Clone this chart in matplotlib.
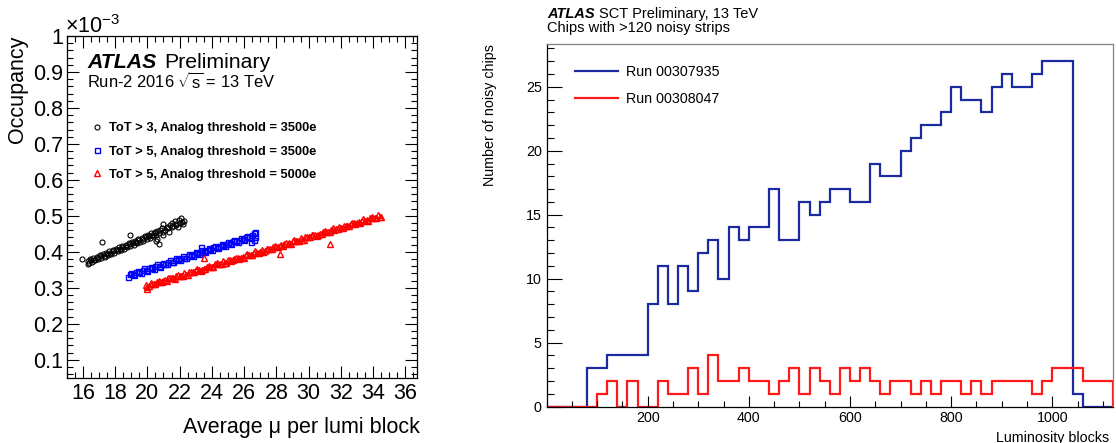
import numpy as np
import matplotlib
matplotlib.use("Agg")
import matplotlib.pyplot as plt
from matplotlib.ticker import MultipleLocator, FixedLocator, FuncFormatter
from matplotlib.lines import Line2D

plt.rcParams['font.family'] = ['Liberation Sans', 'DejaVu Sans']
plt.rcParams['mathtext.fontset'] = 'custom'
plt.rcParams['mathtext.rm'] = 'Liberation Sans'
plt.rcParams['mathtext.it'] = 'Liberation Sans:italic'

# ---- left panel: occupancy (x10^-3) vs average mu ----
mu_tot3 = [15.95, 16.30, 16.40, 16.45, 16.55, 16.65, 16.75, 16.85, 16.95, 17.05, 17.15,
           17.25, 17.35, 17.45, 17.55, 17.65, 17.75, 17.85, 17.95, 18.05, 18.15, 18.25,
           18.35, 18.45, 18.55, 18.65, 18.75, 18.85, 18.95, 19.05, 19.15, 19.25, 19.35,
           19.45, 19.55, 19.65, 19.75, 19.85, 19.95, 20.05, 20.15, 20.25, 20.35, 20.45,
           20.55, 20.60, 20.70, 20.80, 20.90, 21.00, 21.00, 21.10, 21.20, 21.30, 21.40,
           21.50, 21.55, 21.60, 21.70, 21.75, 21.80, 21.90, 21.95, 22.00, 22.10, 22.15,
           22.20, 22.25, 21.35, 20.95, 16.30, 17.20, 18.90, 20.55, 20.70, 20.60,
           16.5, 16.7, 16.9, 17.1, 17.3, 17.5, 17.7, 17.9, 18.1, 18.3, 18.5, 18.7,
           18.9, 19.1, 19.3, 19.5, 19.7, 19.9, 20.1, 20.3, 20.5]
occ_tot3 = [0.379, 0.374, 0.368, 0.379, 0.372, 0.383, 0.376, 0.386, 0.379, 0.390, 0.382,
            0.393, 0.386, 0.397, 0.390, 0.401, 0.393, 0.405, 0.398, 0.409, 0.401, 0.412,
            0.405, 0.416, 0.409, 0.420, 0.413, 0.424, 0.416, 0.428, 0.420, 0.431, 0.424,
            0.435, 0.428, 0.439, 0.431, 0.443, 0.435, 0.447, 0.439, 0.451, 0.443, 0.455,
            0.447, 0.458, 0.452, 0.462, 0.466, 0.478, 0.455, 0.462, 0.470, 0.466, 0.474,
            0.468, 0.480, 0.472, 0.485, 0.474, 0.478, 0.470, 0.488, 0.480, 0.495, 0.484,
            0.478, 0.486, 0.455, 0.447, 0.365, 0.426, 0.446, 0.430, 0.421, 0.435,
            0.376, 0.378, 0.383, 0.387, 0.389, 0.395, 0.397, 0.402, 0.406, 0.408, 0.414,
            0.416, 0.421, 0.425, 0.427, 0.433, 0.435, 0.440, 0.444, 0.446, 0.452]

mu_tot5 = [18.8, 19.0, 19.2, 19.4, 19.6, 19.8, 20.0, 20.2, 20.4, 20.6, 20.8, 21.0, 21.2,
           21.4, 21.6, 21.8, 22.0, 22.2, 22.4, 22.6, 22.8, 23.0, 23.2, 23.4, 23.6, 23.8,
           24.0, 24.2, 24.4, 24.6, 24.8, 25.0, 25.2, 25.4, 25.6, 25.8, 26.0, 26.2, 26.4,
           26.6,
           18.9, 19.1, 19.3, 19.5, 19.7, 19.9, 20.1, 20.3, 20.5, 20.7, 20.9, 21.1, 21.3,
           21.5, 21.7, 21.9, 22.1, 22.3, 22.5, 22.7, 22.9, 23.1, 23.3, 23.5, 23.7, 23.9,
           24.1, 24.3, 24.5, 24.7, 24.9, 25.1, 25.3, 25.5, 25.7, 25.9, 26.1, 26.3, 26.5,
           26.7, 23.3, 26.4, 26.6, 26.7]
occ_tot5 = [0.331, 0.341, 0.336, 0.347, 0.342, 0.354, 0.348, 0.359, 0.353, 0.365, 0.359,
            0.370, 0.365, 0.376, 0.371, 0.382, 0.377, 0.387, 0.382, 0.393, 0.388, 0.399,
            0.394, 0.405, 0.399, 0.411, 0.405, 0.416, 0.411, 0.422, 0.417, 0.428, 0.422,
            0.433, 0.428, 0.439, 0.434, 0.445, 0.439, 0.451,
            0.337, 0.338, 0.343, 0.344, 0.349, 0.350, 0.354, 0.356, 0.360, 0.361, 0.366,
            0.367, 0.372, 0.373, 0.377, 0.379, 0.383, 0.384, 0.389, 0.390, 0.394, 0.396,
            0.400, 0.402, 0.406, 0.407, 0.412, 0.413, 0.417, 0.419, 0.423, 0.424, 0.429,
            0.430, 0.434, 0.436, 0.440, 0.442, 0.446, 0.455, 0.412, 0.428, 0.432, 0.440]

mu_thr5000 = [19.9, 20.1, 20.3, 20.5, 20.7, 20.9, 21.1, 21.3, 21.5, 21.7, 21.9, 22.1, 22.3,
              22.5, 22.7, 22.9, 23.1, 23.3, 23.5, 23.7, 23.9, 24.1, 24.3, 24.5, 24.7, 24.9,
              25.1, 25.3, 25.5, 25.7, 25.9, 26.1, 26.3, 26.5, 26.7, 26.9, 27.1, 27.3, 27.5,
              27.7, 27.9, 28.1, 28.3, 28.5, 28.7, 28.9, 29.1, 29.3, 29.5, 29.7, 29.9, 30.1,
              30.3, 30.5, 30.7, 30.9, 31.1, 31.3, 31.5, 31.7, 31.9, 32.1, 32.3, 32.5, 32.7,
              32.9, 33.1, 33.3, 33.5, 33.7, 33.9, 34.1, 34.3, 34.5,
              20.0, 20.2, 20.4, 20.6, 20.8, 21.0, 21.2, 21.4, 21.6, 21.8, 22.0, 22.2, 22.4,
              22.6, 22.8, 23.0, 23.2, 23.4, 23.6, 23.8, 24.0, 24.2, 24.4, 24.6, 24.8, 25.0,
              25.2, 25.4, 25.6, 25.8, 26.0, 26.2, 26.4, 26.6, 26.8, 27.0, 27.2, 27.4, 27.6,
              27.8, 28.0, 28.2, 28.4, 28.6, 28.8, 29.0, 29.2, 29.4, 29.6, 29.8, 30.0, 30.2,
              30.4, 30.6, 30.8, 31.0, 31.2, 31.4, 31.6, 31.8, 32.0, 32.2, 32.4, 32.6, 32.8,
              33.0, 33.2, 33.4, 33.6, 33.8, 34.0, 34.2, 34.4,
              23.5, 28.25, 31.3, 20.0]
occ_thr5000 = [0.309, 0.304, 0.311, 0.311, 0.319, 0.316, 0.321, 0.326, 0.326, 0.325, 0.336,
               0.334, 0.341, 0.336, 0.344, 0.343, 0.351, 0.348, 0.353, 0.358, 0.358, 0.358,
               0.368, 0.366, 0.374, 0.368, 0.376, 0.376, 0.383, 0.380, 0.386, 0.390, 0.390,
               0.390, 0.401, 0.398, 0.406, 0.401, 0.408, 0.408, 0.416, 0.412, 0.418, 0.423,
               0.422, 0.422, 0.433, 0.430, 0.438, 0.433, 0.441, 0.440, 0.448, 0.445, 0.450,
               0.455, 0.455, 0.454, 0.465, 0.463, 0.470, 0.465, 0.473, 0.473, 0.480, 0.477,
               0.483, 0.487, 0.487, 0.487, 0.497, 0.495, 0.503, 0.497,
               0.303, 0.312, 0.311, 0.316, 0.317, 0.318, 0.320, 0.328, 0.327, 0.333, 0.333,
               0.334, 0.336, 0.344, 0.343, 0.349, 0.349, 0.350, 0.352, 0.361, 0.359, 0.365,
               0.366, 0.366, 0.368, 0.377, 0.375, 0.381, 0.382, 0.382, 0.384, 0.393, 0.391,
               0.397, 0.398, 0.399, 0.400, 0.409, 0.408, 0.413, 0.414, 0.415, 0.416, 0.425,
               0.424, 0.429, 0.430, 0.431, 0.433, 0.441, 0.440, 0.446, 0.446, 0.447, 0.449,
               0.457, 0.456, 0.462, 0.462, 0.463, 0.465, 0.473, 0.472, 0.478, 0.479, 0.479,
               0.481, 0.490, 0.488, 0.494, 0.495, 0.495, 0.497,
               0.384, 0.393, 0.423, 0.297]

labels_left = ['ToT > 3, Analog threshold = 3500e',
               'ToT > 5, Analog threshold = 3500e',
               'ToT > 5, Analog threshold = 5000e']

# ---- right panel: noisy chips per luminosity block (bins of 20 LB) ----
lb_edges = np.arange(0, 1140, 20)
chips_307935 = [0, 0, 0, 0, 3, 3, 4, 4, 4, 4, 8, 11, 8, 11, 9, 12, 13, 10, 14, 13,
                14, 14, 17, 13, 13, 16, 15, 16, 17, 17, 16, 16, 19, 18, 18, 20, 21, 22,
                22, 23, 25, 24, 24, 23, 25, 26, 25, 25, 26, 27, 27, 27, 1, 0, 0, 0]
chips_308047 = [0, 0, 0, 0, 0, 1, 2, 0, 2, 0, 0, 2, 1, 1, 3, 1, 4, 2, 2, 3,
                2, 2, 1, 2, 3, 1, 3, 2, 1, 3, 2, 3, 2, 1, 2, 2, 1, 2, 1, 2,
                2, 1, 2, 1, 2, 2, 2, 2, 1, 2, 3, 3, 3, 2, 2, 2]
runs = ['Run 00307935', 'Run 00308047']

W, H = 1116, 443
fig = plt.figure(figsize=(W / 100, H / 100), dpi=100)

# left
ax1 = fig.add_axes([66.7 / W, 1 - 377.7 / H, 350 / W, 341.7 / H])
ax1.plot(mu_tot3, occ_tot3, 'o', ms=3.6, mfc='none', mec='black', mew=0.8, ls='none')
ax1.plot(mu_tot5, occ_tot5, 's', ms=3.6, mfc='none', mec='#0000ff', mew=1.0, ls='none')
ax1.plot(mu_thr5000, occ_thr5000, '^', ms=3.8, mfc='none', mec='#ff0000', mew=1.0, ls='none')
ax1.set_xlim(15.0, 36.7)
ax1.set_ylim(0.05, 1.0)
ax1.xaxis.set_major_locator(MultipleLocator(2))
ax1.xaxis.set_minor_locator(MultipleLocator(0.5))
ax1.yaxis.set_major_locator(MultipleLocator(0.1))
ax1.yaxis.set_minor_locator(MultipleLocator(0.02))
ax1.yaxis.set_major_formatter(FuncFormatter(lambda v, p: '%g' % round(v, 2)))
ax1.tick_params(which='both', direction='in', top=True, right=True, width=0.8,
                labelsize=15.5)
ax1.tick_params(which='major', length=8.6)
ax1.tick_params(which='minor', length=4.3)
ax1.tick_params(axis='x', pad=4)
ax1.tick_params(axis='y', pad=2.5)
for s in ax1.spines.values():
    s.set_linewidth(0.9)
ax1.set_ylabel('Occupancy', fontsize=15.5, loc='top')
ax1.yaxis.set_label_coords(-0.11, 1.0)
ax1.set_xlabel('Average μ per lumi block', fontsize=15.5, loc='right')
ax1.xaxis.set_label_coords(1.01, -0.115)
ax1.text(-0.005, 1.009, r'$\times10^{-3}$', transform=ax1.transAxes, fontsize=15.5,
         ha='left', va='baseline')
ax1.text(0.058, 0.9055, 'ATLAS', transform=ax1.transAxes, fontsize=15.3,
         fontweight='bold', fontstyle='italic', va='baseline')
ax1.text(0.278, 0.9055, 'Preliminary', transform=ax1.transAxes, fontsize=15.3,
         va='baseline')
ax1.text(0.058, 0.845, r'Run-2 2016 $\sqrt{\mathrm{s}}$ = 13 TeV', transform=ax1.transAxes,
         fontsize=11.9, va='baseline')
handles = [Line2D([], [], marker='o', ls='none', ms=3.6, mfc='none', mec='black', mew=0.8),
           Line2D([], [], marker='s', ls='none', ms=3.6, mfc='none', mec='#0000ff', mew=1.0),
           Line2D([], [], marker='^', ls='none', ms=3.8, mfc='none', mec='#ff0000', mew=1.0)]
ax1.legend(handles, labels_left, loc='upper left', bbox_to_anchor=(0.068, 0.747),
           frameon=False, borderpad=0, borderaxespad=0, handlelength=1.0,
           handletextpad=0.4, labelspacing=0.85,
           prop={'weight': 'bold', 'size': 9.3})

# right
ax2 = fig.add_axes([546.5 / W, 1 - 406.5 / H, 566.5 / W, 362.5 / H])
ax2.stairs(chips_307935, lb_edges, color='#1c2aa0', lw=1.6, label=runs[0])
ax2.stairs(chips_308047, lb_edges, color='#ff1a1a', lw=1.6, label=runs[1])
ax2.set_xlim(0, 1120)
ax2.set_ylim(0, 28.35)
ax2.xaxis.set_major_locator(FixedLocator([200, 400, 600, 800, 1000]))
ax2.xaxis.set_minor_locator(MultipleLocator(50))
ax2.yaxis.set_major_locator(MultipleLocator(5))
ax2.yaxis.set_minor_locator(MultipleLocator(1))
ax2.tick_params(which='both', direction='in', top=False, right=False, width=0.8,
                labelsize=10.3)
ax2.tick_params(axis='y', which='major', length=10.8, pad=3.5)
ax2.tick_params(axis='y', which='minor', length=5)
ax2.tick_params(axis='x', which='major', length=8, pad=3)
ax2.tick_params(axis='x', which='minor', length=4.3)
ax2.spines['top'].set_color('#808080')
ax2.spines['right'].set_color('#808080')
for s in ax2.spines.values():
    s.set_linewidth(0.9)
ax2.set_ylabel('Number of noisy chips', fontsize=10.3, loc='top')
ax2.yaxis.set_label_coords(-0.0874, 1.0)
ax2.set_xlabel('Luminosity blocks', fontsize=10.3, loc='right')
ax2.xaxis.set_label_coords(0.993, -0.0676)
ax2.legend(loc='upper left', bbox_to_anchor=(0.0503, 0.943), frameon=False,
           borderpad=0, borderaxespad=0, handlelength=3.0, handletextpad=0.6,
           labelspacing=0.9, fontsize=10.3)
fig.text(547 / W, 1 - 18 / H, 'ATLAS', fontsize=10.5, fontweight='bold',
         fontstyle='italic', va='baseline')
fig.text(599 / W, 1 - 18 / H, 'SCT Preliminary, 13 TeV', fontsize=10.5, va='baseline')
fig.text(547 / W, 1 - 32 / H, 'Chips with >120 noisy strips', fontsize=10.5, va='baseline')

fig.savefig('out.png', dpi=100)
